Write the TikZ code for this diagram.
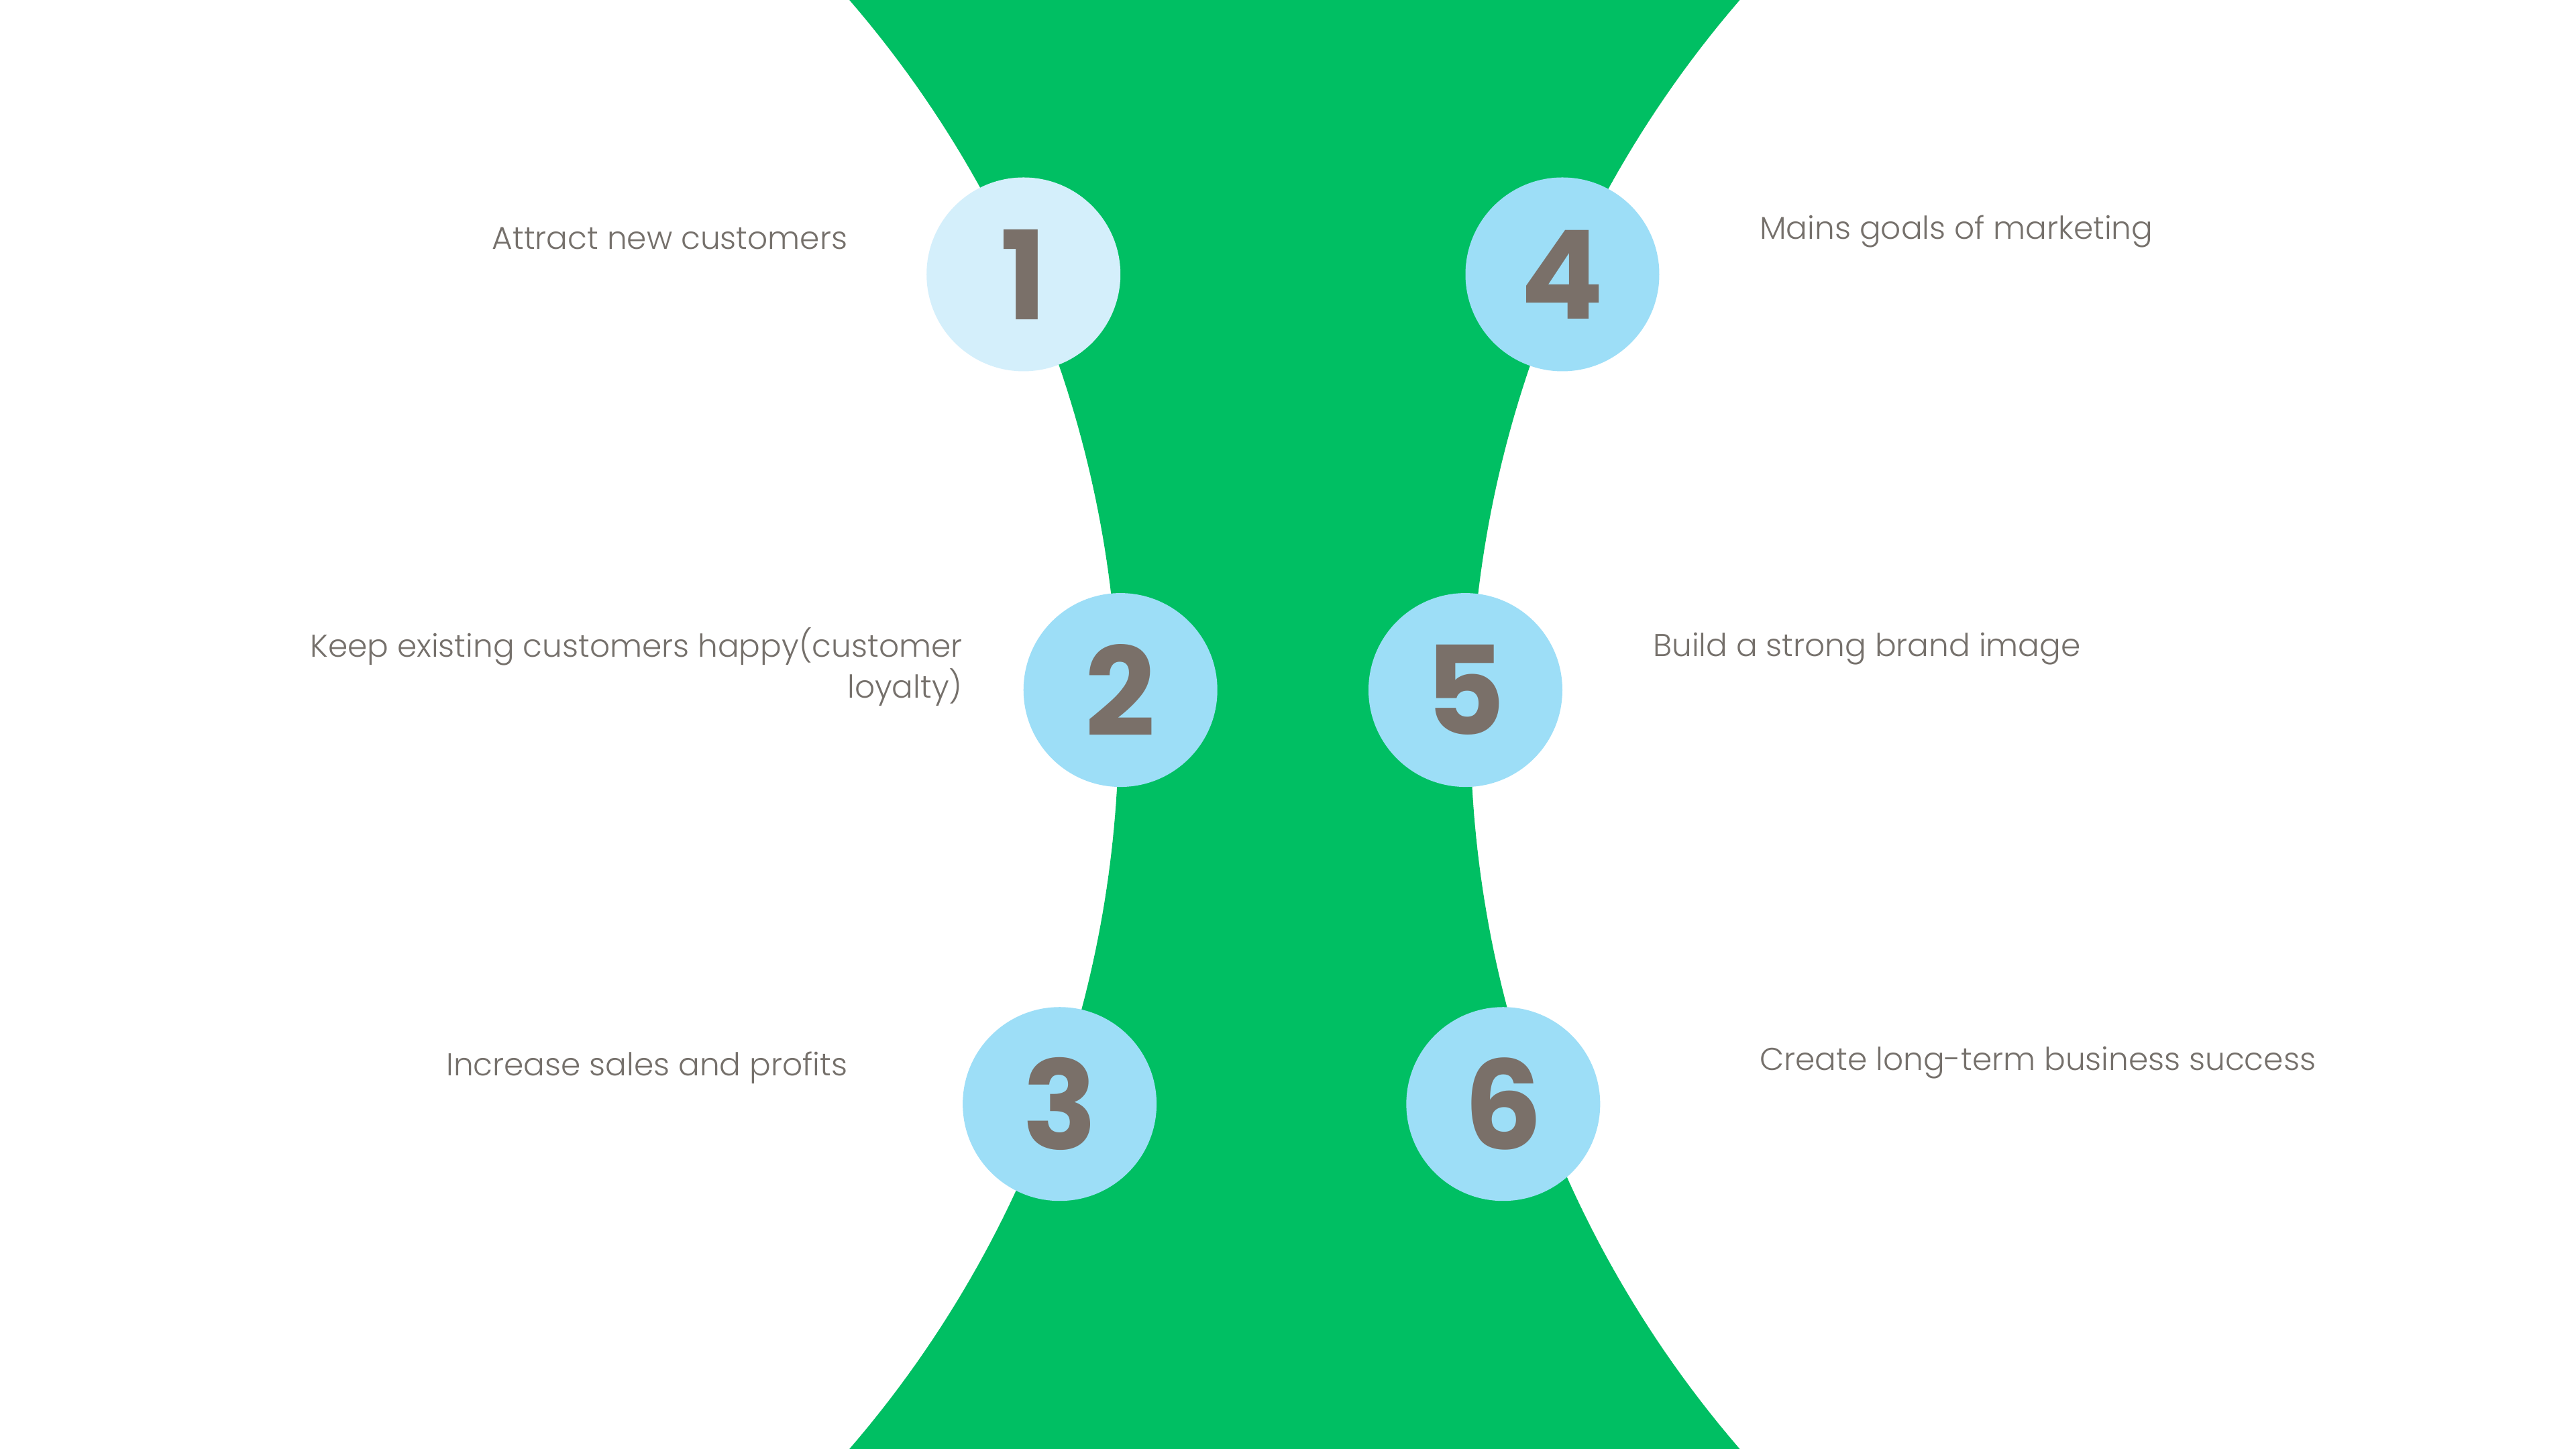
\documentclass[tikz,border=0pt]{standalone}
\usepackage{fontspec}
\setmainfont{Poppins}[UprightFont=* Light,BoldFont=* Bold]
\begin{document}
\begin{tikzpicture}[x=1pt,y=-1pt,
  numcirc/.style={circle,minimum size=118pt,inner sep=0pt,fill=circblue,text=numgray,font=\fontsize{75}{75}\selectfont\bfseries},
  lbl/.style={inner sep=0pt,text=txtgray,font=\fontsize{19.2}{25}\selectfont}]
\definecolor{hgreen}{HTML}{00BF63}
\definecolor{circblue}{HTML}{9DDEF7}
\definecolor{circlight}{HTML}{D4EFFB}
\definecolor{numgray}{HTML}{7A7069}
\definecolor{txtgray}{HTML}{75706B}
\useasboundingbox (0,0) rectangle (1568,882);
\fill[white] (0,0) rectangle (1568,882);
% green hourglass
\fill[hgreen] plot[domain=0:882,samples=120,variable=\t] ({1570-10*sqrt(4556.25-((\t-441)/10)^2)},\t)
  -- plot[domain=882:0,samples=120,variable=\t] ({6+10*sqrt(4556.25-((\t-441)/10)^2)},\t) -- cycle;
% circles
\node[numcirc,fill=circlight] (c1) at (623,167) {1};
\node[numcirc] (c2) at (682,420) {2};
\node[numcirc] (c3) at (645,672) {3};
\node[numcirc] (c4) at (951,167) {4};
\node[numcirc] (c5) at (892,420) {5};
\node[numcirc] (c6) at (915,672) {6};
% labels
\node[lbl,anchor=east] (t1) at (516,145) {Attract new customers};
\node[lbl,anchor=east,align=right] (t2) at (586,406) {Keep existing customers happy(customer\\loyalty)};
\node[lbl,anchor=east] (t3) at (516,650) {Increase sales and profits};
\node[lbl,anchor=west] (t4) at (1071,141) {Mains goals of marketing};
\node[lbl,anchor=west] (t5) at (1006,395) {Build a strong brand image};
\node[lbl,anchor=west] (t6) at (1071,647) {Create long-term business success};
\end{tikzpicture}
\end{document}
